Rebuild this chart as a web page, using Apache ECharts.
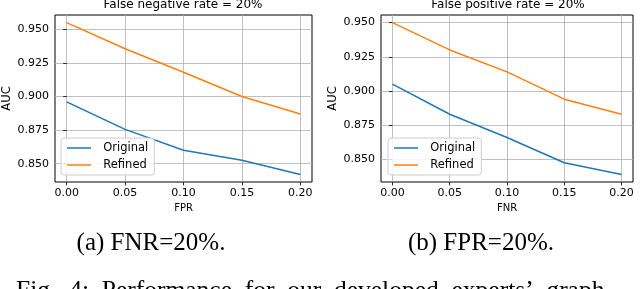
<!DOCTYPE html>
<html><head><meta charset="utf-8">
<script src="https://cdn.jsdelivr.net/npm/echarts@6/dist/echarts.min.js"></script>
<style>html,body{margin:0;padding:0;background:#fff}#c{width:640px;height:289px}</style>
</head><body><div id="c"></div>
<script>
// x positions (rate of the varied error)
const xValues = [0, 0.05, 0.10, 0.15, 0.20];
const xTicks = [0, 0.05, 0.10, 0.15, 0.20];
const yTicks = [0.850, 0.875, 0.900, 0.925, 0.950];
const seriesNames = ['Original', 'Refined'];
// (a) FNR = 20%, x = FPR
const fnrOriginal = [0.896, 0.8755, 0.860, 0.8525, 0.842];
const fnrRefined  = [0.955, 0.9355, 0.918, 0.900, 0.887];
// (b) FPR = 20%, x = FNR
const fprOriginal = [0.905, 0.883, 0.866, 0.8475, 0.839];
const fprRefined  = [0.950, 0.930, 0.914, 0.894, 0.883];

const titles = ['False negative rate = 20%', 'False positive rate = 20%'];
const xNames = ['FPR', 'FNR'];
const captions = ['(a) FNR=20%.', '(b) FPR=20%.'];
const figCaption = 'Fig.  4:  Performance  for  our  developed  experts\u2019  graph';

const BLUE = '#1f77b4', ORANGE = '#ff7f0e';
const FONT = 'DejaVu Sans';

function pad(arr) {
  const mn = Math.min(...arr), mx = Math.max(...arr), m = (mx - mn) * 0.05;
  return [mn - m, mx + m];
}
const panels = [
  {orig: fnrOriginal, ref: fnrRefined, grid: {left: 54, top: 15, width: 258, height: 167}},
  {orig: fprOriginal, ref: fprRefined, grid: {left: 381, top: 15, width: 252, height: 167}}
];

const grids = [], xAxes = [], yAxes = [], series = [], legends = [];
panels.forEach((p, i) => {
  grids.push(Object.assign({show: true, borderColor: '#000', borderWidth: 1, backgroundColor: 'transparent'}, p.grid));
  const xr = pad(xValues);
  xAxes.push({
    type: 'value', gridIndex: i, min: xr[0], max: xr[1],
    name: xNames[i], nameLocation: 'middle', nameGap: 16,
    nameTextStyle: {fontFamily: FONT, fontSize: 10, color: '#000'},
    axisLine: {show: false},
    axisTick: {show: true, length: 3.5, customValues: xTicks, lineStyle: {color: '#000', width: 0.8}},
    axisLabel: {customValues: xTicks, fontFamily: FONT, fontSize: 11, color: '#000', margin: 6,
      formatter: v => v.toFixed(2)},
    splitLine: {show: true, lineStyle: {color: '#b0b0b0', width: 0.8}}
  });
  const yr = pad(p.orig.concat(p.ref));
  yAxes.push({
    type: 'value', gridIndex: i, min: yr[0], max: yr[1],
    name: 'AUC', nameLocation: 'middle', nameGap: 42,
    nameTextStyle: {fontFamily: FONT, fontSize: 11.5, color: '#000'},
    axisLine: {show: false},
    axisTick: {show: true, length: 3.5, customValues: yTicks, lineStyle: {color: '#000', width: 0.8}},
    axisLabel: {customValues: yTicks, fontFamily: FONT, fontSize: 11, color: '#000', margin: 6,
      formatter: v => v.toFixed(3)},
    splitLine: {show: true, lineStyle: {color: '#b0b0b0', width: 0.8}}
  });
  [[p.orig, BLUE, 0], [p.ref, ORANGE, 1]].forEach(([vals, col, k]) => {
    series.push({
      type: 'line', name: seriesNames[k], xAxisIndex: i, yAxisIndex: i,
      data: xValues.map((x, j) => [x, vals[j]]),
      showSymbol: false, symbol: 'none', color: col,
      lineStyle: {color: col, width: 1.5}, itemStyle: {color: col},
      emphasis: {disabled: true}, animation: false, z: 3
    });
  });
  legends.push({
    left: p.grid.left + 7, top: 138, orient: 'vertical',
    data: seriesNames, icon: 'rect', itemWidth: 24, itemHeight: 1.5, itemGap: 5,
    padding: [4, 6, 4, 6], backgroundColor: 'rgba(255,255,255,0.85)',
    borderColor: '#cccccc', borderWidth: 1, borderRadius: 3, selectedMode: false,
    formatter: name => '  ' + name,
    textStyle: {fontFamily: FONT, fontSize: 11.5, color: '#000', lineHeight: 12}
  });
});

const graphics = [];
[183, 508].forEach((cx, i) => {
  graphics.push({type: 'text', x: cx, y: 4.5, silent: true,
    style: {text: titles[i], font: '12px "DejaVu Sans"', fill: '#000',
      align: 'center', verticalAlign: 'middle', textAlign: 'center', textVerticalAlign: 'middle'}});
});
[151, 481].forEach((cx, i) => {
  graphics.push({type: 'text', x: cx, y: 243.4, silent: true,
    style: {text: captions[i], font: '25px "Liberation Serif"', fill: '#000',
      align: 'center', verticalAlign: 'middle', textAlign: 'center', textVerticalAlign: 'middle'}});
});
graphics.push({type: 'text', x: 16, y: 291.4, silent: true,
  style: {text: figCaption, font: '25.5px "Liberation Serif"', fill: '#000',
    align: 'left', verticalAlign: 'middle', textAlign: 'left', textVerticalAlign: 'middle'}});

const chart = echarts.init(document.getElementById('c'), null, {renderer: 'canvas'});
chart.setOption({
  animation: false, backgroundColor: '#fff',
  grid: grids, xAxis: xAxes, yAxis: yAxes, series: series, legend: legends,
  graphic: graphics
});
</script></body></html>
